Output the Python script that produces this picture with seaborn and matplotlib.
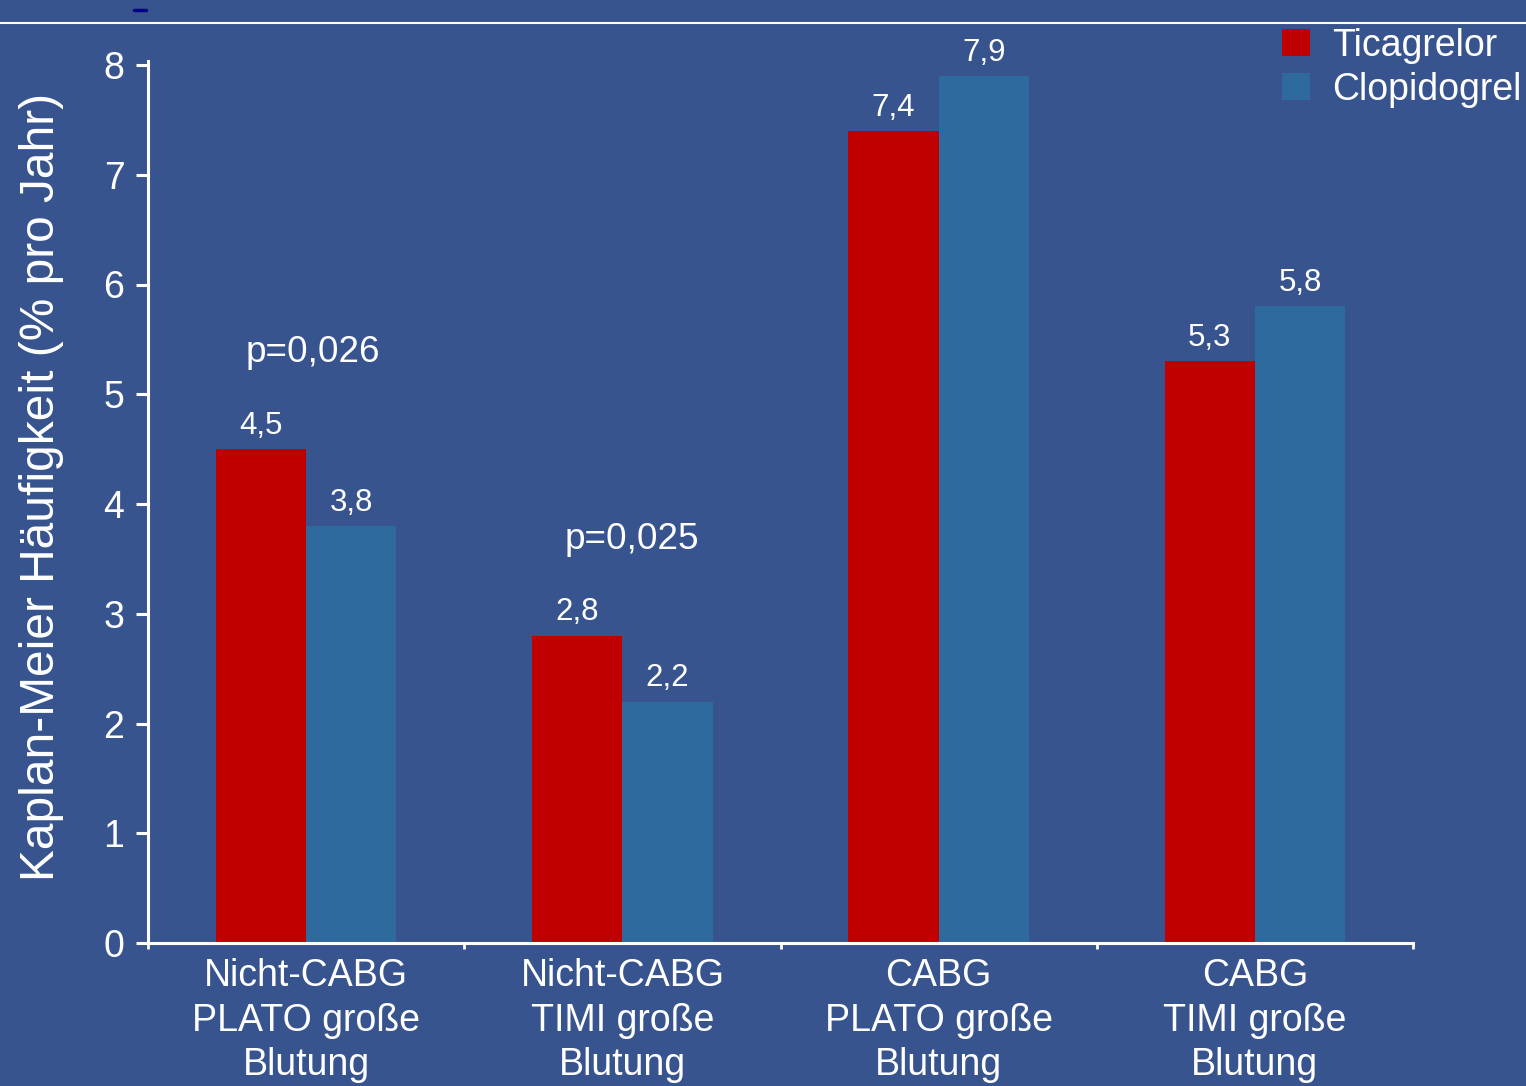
import matplotlib
matplotlib.use("Agg")
import matplotlib.pyplot as plt
from matplotlib.patches import Patch
from matplotlib.lines import Line2D
from matplotlib.ticker import FixedLocator
import seaborn as sns
import pandas as pd

categories = ["Nicht-CABG\nPLATO große\nBlutung",
              "Nicht-CABG\nTIMI große\nBlutung",
              "CABG\nPLATO große\nBlutung",
              "CABG\nTIMI große\nBlutung"]
ticagrelor = [4.5, 2.8, 7.4, 5.3]
clopidogrel = [3.8, 2.2, 7.9, 5.8]
series_names = ["Ticagrelor", "Clopidogrel"]
p_values = ["p=0,026", "p=0,025"]
p_positions = [(0.02, 5.38), (1.03, 3.68)]
y_ticks = [0, 1, 2, 3, 4, 5, 6, 7, 8]

BG = "#38548F"
RED = "#C00000"
BLUE = "#2E6A9E"
WHITE = "white"

df = pd.DataFrame({
    "Kategorie": categories * 2,
    "Wert": ticagrelor + clopidogrel,
    "Gruppe": [series_names[0]] * 4 + [series_names[1]] * 4,
})

sns.set_theme(style="white")
plt.rcParams["font.family"] = ["Liberation Sans", "DejaVu Sans"]

fig = plt.figure(figsize=(15.26, 10.86), dpi=100, facecolor=BG)
ax = fig.add_axes([148 / 1526, 1 - 943 / 1086, 1265 / 1526, 878 / 1086])
ax.set_facecolor(BG)

sns.barplot(data=df, x="Kategorie", y="Wert", hue="Gruppe",
            palette=[RED, BLUE], width=0.57, saturation=1, ax=ax,
            legend=False, linewidth=0)

ax.set_xlim(-0.5, 3.5)
ax.set_ylim(0, 8.0)
ax.set_yticks(y_ticks)
ax.set_yticklabels([str(t) for t in y_ticks])

for cont in ax.containers:
    ax.bar_label(cont, labels=[f"{v:.1f}".replace(".", ",") for v in cont.datavalues],
                 padding=6, color=WHITE, fontsize=22.5)

for txt, (px, py) in zip(p_values, p_positions):
    ax.text(px, py, txt, color=WHITE, fontsize=26.6, ha="center", va="center")

for side in ["top", "right"]:
    ax.spines[side].set_visible(False)
for side in ["left", "bottom"]:
    ax.spines[side].set_color(WHITE)
    ax.spines[side].set_linewidth(2.2)
ax.spines["left"].set_bounds(0, 8.04)

ax.tick_params(axis="y", colors=WHITE, labelsize=27, length=9, width=2.2,
               direction="out", pad=8, left=True)
ax.tick_params(axis="x", colors=WHITE, labelsize=27, length=0, pad=11, bottom=True)
ax.xaxis.set_minor_locator(FixedLocator([-0.5, 0.5, 1.5, 2.5, 3.5]))
ax.tick_params(axis="x", which="minor", colors=WHITE, length=4, width=2, direction="out",
               bottom=True)
for lbl in ax.get_xticklabels():
    lbl.set_linespacing(1.3)

ax.set_xlabel("")
ax.set_ylabel("Kaplan-Meier Häufigkeit (% pro Jahr)", color=WHITE, fontsize=34.5)
ax.yaxis.set_label_coords(64 / 1526, 1 - 487 / 1086, transform=fig.transFigure)

handles = [Patch(facecolor=RED, edgecolor="none"), Patch(facecolor=BLUE, edgecolor="none")]
leg = fig.legend(handles, series_names, loc="upper left",
                 bbox_to_anchor=(1274 / 1526, 1 - 20 / 1086), frameon=False,
                 fontsize=27, handlelength=0.75, handleheight=0.75, handletextpad=0.6,
                 labelspacing=0.22, borderpad=0.2, borderaxespad=0)
for t in leg.get_texts():
    t.set_color(WHITE)

fig.add_artist(Line2D([0, 1], [1 - 22.5 / 1086, 1 - 22.5 / 1086], transform=fig.transFigure,
                      color=WHITE, linewidth=1.5))
fig.add_artist(Line2D([134 / 1526, 146 / 1526], [1 - 9.5 / 1086, 1 - 9.5 / 1086],
                      transform=fig.transFigure, color="#00008B", linewidth=2.5))

fig.savefig("out.png", dpi=100, facecolor=BG)
